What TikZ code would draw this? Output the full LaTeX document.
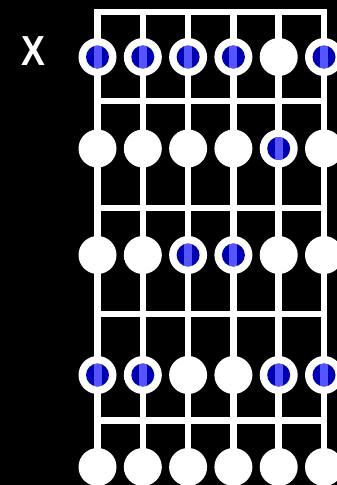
\documentclass[tikz,border=0pt]{standalone}
\usepackage{fontspec}
\setmainfont{Liberation Sans}
\definecolor{dkblue}{RGB}{0,0,176}
\definecolor{ltblue}{RGB}{85,85,255}
\tikzset{
  gridline/.style={draw=white, line width=6.5pt, line join=miter, line cap=butt},
  dot/.style={circle, fill=white, minimum size=38pt, inner sep=0pt},
  bluedot/.style={dot, path picture={
      \fill[dkblue] (path picture bounding box.center) circle (11.5pt);
      \begin{scope}
        \clip (path picture bounding box.center) circle (11.5pt);
        \fill[ltblue] ([xshift=-4pt,yshift=-12pt]path picture bounding box.center) rectangle ([xshift=4pt,yshift=12pt]path picture bounding box.center);
      \end{scope}
  }},
  lbl/.style={text=white, inner sep=0pt, font=\bfseries\fontsize{42}{42}\selectfont}
}
\begin{document}
\begin{tikzpicture}[x=1pt, y=-1pt]
  \fill[black] (0,0) rectangle (337,485);
  \useasboundingbox (0,0) rectangle (337,485);
  \clip (0,0) rectangle (337,485);
  % string positions
  \foreach \i/\x in {1/97.5, 2/142.8, 3/188.1, 4/233.4, 5/278.7, 6/324} {
    \coordinate (t\i) at (\x,12);
    \coordinate (b\i) at (\x,490);
  }
  % outer frame (strings 1 and 6 with nut)
  \draw[gridline] (b1) -- (t1) -- (t6) -- (b6);
  % inner strings
  \foreach \i in {2,...,5} { \draw[gridline] (t\i) -- (b\i); }
  % frets
  \foreach \f/\y in {1/101, 2/208, 3/314, 4/420.5} {
    \coordinate (fl\f) at (97.5,\y);
    \coordinate (fr\f) at (324,\y);
    \draw[gridline] (fl\f) -- (fr\f);
  }
  % label
  \node[lbl] (xlabel) at (33,51) {\scalebox{0.85}[1]{X}};
  % markers: row/y/list of styles per string
  \foreach \r/\y/\a/\b/\c/\d/\e/\f in {
      1/57/bluedot/bluedot/bluedot/bluedot/dot/bluedot,
      2/148.5/dot/dot/dot/dot/bluedot/dot,
      3/255/dot/dot/bluedot/bluedot/dot/dot,
      4/375/bluedot/bluedot/dot/dot/bluedot/bluedot,
      5/467/dot/dot/dot/dot/dot/dot} {
    \node[\a] (m\r-1) at (97.5,\y) {};
    \node[\b] (m\r-2) at (142.8,\y) {};
    \node[\c] (m\r-3) at (188.1,\y) {};
    \node[\d] (m\r-4) at (233.4,\y) {};
    \node[\e] (m\r-5) at (278.7,\y) {};
    \node[\f] (m\r-6) at (324,\y) {};
  }
\end{tikzpicture}
\end{document}
